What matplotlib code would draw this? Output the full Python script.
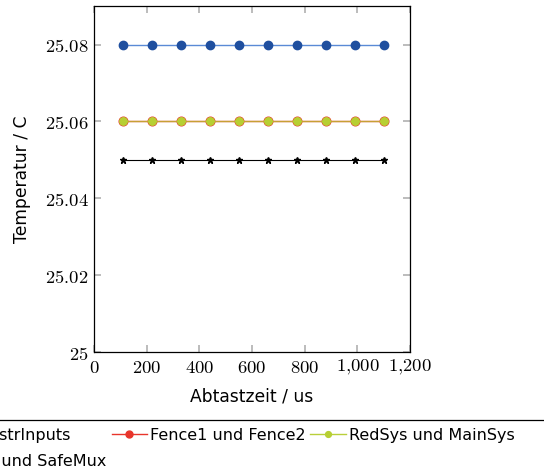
import numpy as np
import matplotlib.pyplot as plt
from matplotlib.lines import Line2D
from matplotlib.ticker import FuncFormatter

# Messdaten
zeit = [110, 220, 330, 440, 550, 660, 770, 880, 990, 1100]
temp_mux = [25.08] * 10
temp_fence = [25.06] * 10
temp_redsys = [25.06] * 10
temp_inputs = [25.05] * 10

namen = ['Ctr und strInputs', 'CtrlMux und SafeMux',
         'Fence1 und Fence2', 'RedSys und MainSys']

plt.rcParams['mathtext.fontset'] = 'cm'
plt.rcParams['font.family'] = 'DejaVu Sans'

fig = plt.figure(figsize=(5.44, 4.76), dpi=100)
ax = fig.add_axes([0.1728, 0.2605, 0.581, 0.7265])

ax.plot(zeit, temp_mux, color='#5a8ad6', lw=1.0, marker='o', ms=6,
        mfc='#1f4f9f', mec='#1f4f9f')
ax.plot(zeit, temp_fence, color='#e8352b', lw=1.0, marker='o', ms=6.2,
        mfc='#e8352b', mec='#e8352b')
ax.plot(zeit, temp_redsys, color='#b9cf3a', lw=1.0, alpha=0.7)
ax.plot(zeit, temp_redsys, ls='none', marker='o', ms=5.4, mfc='#b7cf33', mec='#b7cf33')
ax.plot(zeit, temp_inputs, color='black', lw=0.8, marker='*', ms=4.5)

# Legendeneintraege (kleinere Marker)
h_inp = Line2D([], [], color='black', lw=0.8, marker='*', ms=4.5)
h_mux = Line2D([], [], color='#5a8ad6', lw=1.0, marker='o', ms=5, mfc='#1f4f9f', mec='#1f4f9f')
h_fence = Line2D([], [], color='#e8352b', lw=1.0, marker='o', ms=5, mfc='#e8352b', mec='#e8352b')
h_red = Line2D([], [], color='#b9cf3a', lw=1.0, marker='o', ms=4.2, mfc='#b7cf33', mec='#b7cf33')

ax.set_xlim(0, 1200)
ax.set_ylim(25, 25.09)
ax.set_xticks([0, 200, 400, 600, 800, 1000, 1200])
ax.set_yticks([25, 25.02, 25.04, 25.06, 25.08])
ax.xaxis.set_major_formatter(FuncFormatter(lambda v, p: '$' + f'{int(v):,}'.replace(',', '{,}') + '$'))
ax.yaxis.set_major_formatter(FuncFormatter(lambda v, p: '$25$' if abs(v - 25) < 1e-9 else f'${v:.2f}$'))
ax.tick_params(direction='in', length=5, color='#b0b0b0', width=1.2,
               top=True, right=True, labelsize=13.4, pad=4)
for s in ax.spines.values():
    s.set_linewidth(0.9)

ax.set_xlabel('Abtastzeit / us', fontsize=12.3, labelpad=8)
ax.set_ylabel('Temperatur / C', fontsize=12.3, labelpad=10)

# Legende unten, breiter als die Abbildung (Rahmen nur oben sichtbar)
leg = fig.legend(handles=[h_inp, h_mux, h_fence, h_red], labels=namen,
                 ncol=3, loc='upper center', bbox_to_anchor=(0.3774, 0.135),
                 fontsize=11.5, frameon=False,
                 handlelength=2.2, handletextpad=0.2, columnspacing=0.3,
                 borderpad=0.5, labelspacing=0.7)
fig.add_artist(Line2D([0, 1], [1 - 420 / 476] * 2, transform=fig.transFigure,
                      color='black', lw=0.9))

plt.savefig('out.png', dpi=100)
